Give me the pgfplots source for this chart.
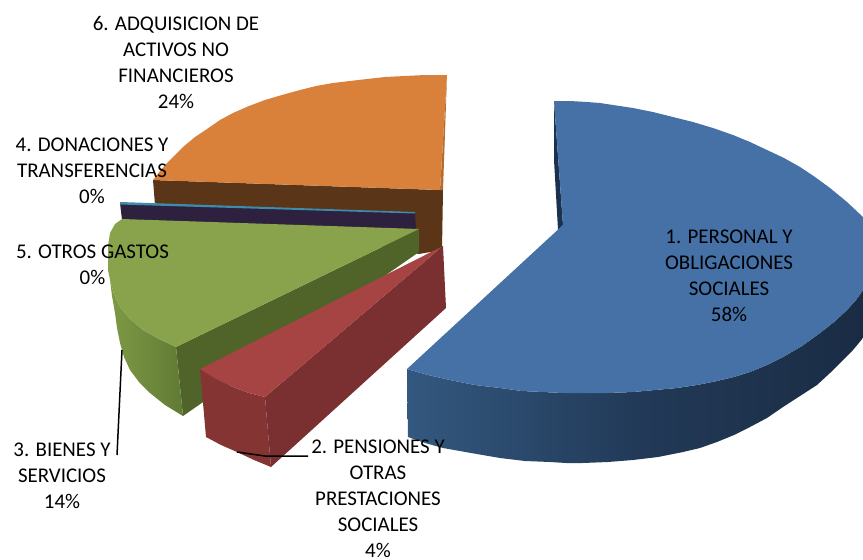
\documentclass[border=0pt]{standalone}
\usepackage{fontspec}
\setmainfont{Carlito}
\usepackage{pgfplots}
\pgfplotsset{compat=1.18}
\definecolor{oTop}{HTML}{D9803A}
\definecolor{oEdge}{HTML}{B56C30}
\definecolor{oSide}{HTML}{5A3518}
\definecolor{pTop}{HTML}{3E8CAB}
\definecolor{pSide}{HTML}{2E2140}
\definecolor{gTop}{HTML}{88A34B}
\definecolor{gSide}{HTML}{506329}
\definecolor{gOutL}{HTML}{7E9A44}
\definecolor{gOutR}{HTML}{617A35}
\definecolor{rTop}{HTML}{A64343}
\definecolor{rSide}{HTML}{7A2F30}
\definecolor{rOut}{HTML}{853434}
\definecolor{bTop}{HTML}{4571A7}
\definecolor{bEdge}{HTML}{1C3150}
\definecolor{bOutL}{HTML}{33587F}
\definecolor{bOutM}{HTML}{223A58}
\definecolor{bOutR}{HTML}{1A2C44}
\tikzset{lbl/.style={align=center, font=\fontsize{21}{26.2}\selectfont, text=black, inner sep=0pt}}
\begin{document}
\begin{tikzpicture}
\useasboundingbox (0,0) rectangle (863bp,560bp);
\begin{axis}[
  at={(0,0)}, anchor=south west,
  scale only axis, width=863bp, height=560bp,
  xmin=0, xmax=863, ymin=0, ymax=560, y dir=reverse,
  axis lines=none,
]
% 6. orange
\addplot[draw=none, fill=oSide] coordinates {(153,180)(440,190)(443,190)(442,250)(419,254)(155,205)} -- cycle;
\addplot[draw=none, fill=oEdge] coordinates {(447,75)(443,190)(440,190)} -- cycle;
\addplot[draw=none, fill=oTop] coordinates {(153,180)(160,171)(167,163)(175,155)(183,147)(195,137)(207,129)(220,120)(233,113)(249,106)(265,100)(282,95)(300,90)(316,86)(333,83)(350,81)(367,79)(385,77)(405,76)(425,75)(447,75)(440,190)} -- cycle;
% 4. purple
\addplot[draw=none, fill=pSide] coordinates {(120,203)(415,213)(416,229)(122,220)} -- cycle;
\addplot[draw=none, fill=pTop] coordinates {(120,202)(415,212)(415,213.5)(120,204.5)} -- cycle;
% 3. green
\addplot[draw=none, fill=gSide] coordinates {(419,229)(419,252)(183,416)(176,347)} -- cycle;
\addplot[draw=none, left color=gOutL, right color=gOutR] coordinates {(110,280)(114,294)(120,307)(130,319)(143,330)(159,339)(176,347)(183,416)(165,405)(150,393)(139,382)(130,370)(124,357)(120,343)(117,328)(115,313)(112,296)} -- cycle;
\addplot[draw=none, fill=gTop] coordinates {(122,219)(419,229)(176,347)(159,339)(143,330)(130,319)(120,307)(114,294)(110,280)(108,270)(108,260)(108,246)(110,233)(115,224)} -- cycle;
% 2. red
\addplot[draw=none, fill=rSide] coordinates {(443,246)(265,397)(271,467)(446,308)} -- cycle;
\addplot[draw=none, fill=rOut] coordinates {(200,369)(216,379)(233,387)(249,393)(265,397)(271,467)(254,460)(237,452)(221,445)(206,437)} -- cycle;
\addplot[draw=none, fill=rTop] coordinates {(443,246)(200,369)(216,379)(233,387)(249,393)(265,397)} -- cycle;
% 1. blue
\addplot[draw=none, fill=bEdge] coordinates {(554,101)(554,160)(558,230)(563,225)} -- cycle;
\addplot[draw=none, left color=bOutL, right color=bOutR, middle color=bOutM] coordinates {(407,369)(428,375)(450,380)(475,385)(500,388)(522,391)(543,392)(563,393)(583,393)(608,393)(633,392)(655,390)(677,388)(697,385)(717,381)(734,377)(750,372)(767,365)(783,357)(802,346)(820,333)(834,322)(847,310)(856,300)(863,290)(863,338)(853,350)(843,360)(830,373)(817,385)(800,396)(783,407)(767,418)(750,427)(734,435)(717,442)(700,448)(683,452)(658,457)(633,460)(608,462)(583,463)(566,463)(550,462)(525,461)(500,458)(471,453)(443,448)(425,443)(408,437)} -- cycle;
\addplot[draw=none, fill=bTop] coordinates {(554,101)(570,101)(587,102)(600,103)(613,105)(633,108)(653,112)(673,117)(693,122)(713,128)(733,135)(750,142)(767,150)(784,158)(800,167)(815,177)(830,188)(847,202)(863,217)(863,290)(856,300)(847,310)(834,322)(820,333)(802,346)(783,357)(767,365)(750,372)(734,377)(717,381)(697,385)(677,388)(655,390)(633,392)(608,393)(583,393)(563,393)(543,392)(522,391)(500,388)(475,385)(450,380)(428,375)(407,369)(563,225)} -- cycle;
% leader lines
\addplot[black, line width=1.5pt] coordinates {(122,350)(117,455)};
\addplot[black, line width=1.5pt] coordinates {(237,452)(265,456)(308,456)};
% labels
\node[lbl] at (axis cs:176,62.5) {6. ADQUISICION DE\\ACTIVOS NO\\FINANCIEROS\\24\%};
\node[lbl] at (axis cs:92,170.5) {4. DONACIONES Y\\TRANSFERENCIAS\\0\%};
\node[lbl] at (axis cs:92.5,264.5) {5. OTROS GASTOS\\0\%};
\node[lbl] at (axis cs:62,475.5) {3. BIENES Y\\SERVICIOS\\14\%};
\node[lbl] at (axis cs:378,498.5) {2. PENSIONES Y\\OTRAS\\PRESTACIONES\\SOCIALES\\4\%};
\node[lbl] at (axis cs:729,275.5) {1. PERSONAL Y\\OBLIGACIONES\\SOCIALES\\58\%};
\end{axis}
\end{tikzpicture}
\end{document}
